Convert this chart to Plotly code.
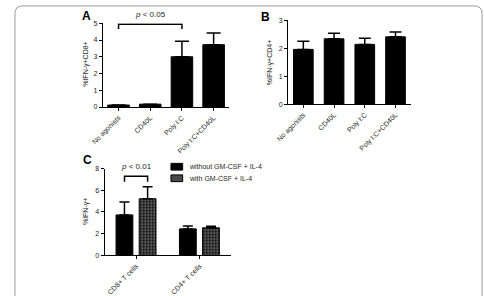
import plotly.graph_objects as go

W, H = 484, 296

# ---- data ----
cats_ab = ["No agonists", "CD40L", "Poly I:C", "Poly I:C+CD40L"]
a_vals = [0.12, 0.17, 3.0, 3.72]
a_err_top = [0.12, 0.17, 3.92, 4.42]
b_vals = [1.96, 2.34, 2.14, 2.41]
b_err_top = [2.25, 2.54, 2.36, 2.58]

cats_c = ["CD8+ T cells", "CD4+ T cells"]
c_without = [3.73, 2.44]
c_without_top = [4.92, 2.70]
c_with = [5.22, 2.54]
c_with_top = [6.33, 2.68]
legend_names = ["without GM-CSF + IL-4", "with GM-CSF + IL-4"]

FONT = "Liberation Sans, Arial, sans-serif"
TXT = "#262626"

def px_x(p):
    return p / W

def px_y(p):
    return 1 - p / H

fig = go.Figure()

def up_err(vals, tops, cap):
    return dict(type="data", symmetric=False,
                array=[t - v for v, t in zip(vals, tops)],
                arrayminus=[0] * len(vals),
                color="black", thickness=1.5, width=cap)

PATTERN = dict(shape=".", fgcolor="white", bgcolor="black", size=3, solidity=0.45)

fig.add_trace(go.Bar(x=cats_ab, y=a_vals, width=0.68, xaxis="x", yaxis="y",
                     marker=dict(color="black", line=dict(color="black", width=1)),
                     error_y=up_err(a_vals, a_err_top, 7), showlegend=False))
fig.add_trace(go.Bar(x=cats_ab, y=b_vals, width=0.64, xaxis="x2", yaxis="y2",
                     marker=dict(color="black", line=dict(color="black", width=1)),
                     error_y=up_err(b_vals, b_err_top, 6), showlegend=False))
fig.add_trace(go.Bar(x=cats_c, y=c_without, width=0.265, offset=-0.32,
                     xaxis="x3", yaxis="y3", name=legend_names[0], showlegend=False,
                     marker=dict(color="black", line=dict(color="black", width=1)),
                     error_y=up_err(c_without, c_without_top, 5)))
fig.add_trace(go.Bar(x=cats_c, y=c_with, width=0.265, offset=0.045,
                     xaxis="x3", yaxis="y3", name=legend_names[1], showlegend=False,
                     marker=dict(color="black", line=dict(color="black", width=1),
                                 pattern=PATTERN),
                     error_y=up_err(c_with, c_with_top, 5)))

tickfont = dict(family=FONT, size=7, color=TXT)
common_x = dict(showline=True, linecolor="black", linewidth=1, ticks="outside",
                ticklen=3, tickcolor="black", tickwidth=1, showgrid=False,
                zeroline=False, tickangle=-45, tickfont=tickfont, fixedrange=True)
common_y = dict(showline=True, linecolor="black", linewidth=1, ticks="outside",
                ticklen=3, tickcolor="black", tickwidth=1, showgrid=False,
                zeroline=False, tickfont=tickfont, fixedrange=True)

fig.update_layout(
    width=W, height=H, margin=dict(l=0, r=0, t=0, b=0),
    paper_bgcolor="white", plot_bgcolor="white", barmode="overlay",
    font=dict(family=FONT, size=7, color=TXT), showlegend=False,
    xaxis=dict(common_x, domain=[px_x(93), px_x(223)], range=[-0.5, 3.5], anchor="y"),
    yaxis=dict(common_y, domain=[px_y(107), px_y(20)], range=[0, 5], dtick=1, anchor="x"),
    xaxis2=dict(common_x, domain=[px_x(283), px_x(409)], range=[-0.5, 3.5], anchor="y2"),
    yaxis2=dict(common_y, domain=[px_y(104), px_y(17)], range=[0, 3], dtick=1, anchor="x2"),
    xaxis3=dict(common_x, domain=[px_x(95), px_x(225)], range=[-0.5, 1.5], anchor="y3"),
    yaxis3=dict(common_y, domain=[px_y(261), px_y(171)], range=[0, 8], dtick=2, anchor="x3"),
)

# y-axis titles
for txt, yc, xc in [("%IFN-γ+CD8+", 62, 76), ("%IFN-γ+CD4+", 60, 264), ("%IFN-γ+", 216, 76)]:
    fig.add_annotation(text=txt, xref="paper", yref="paper", x=px_x(xc), y=px_y(yc),
                       textangle=-90, showarrow=False, font=dict(family=FONT, size=7, color=TXT),
                       xanchor="center", yanchor="middle")

# panel letters
for t, xc, yc in [("A", 76, 12), ("B", 260, 13), ("C", 77, 162)]:
    fig.add_annotation(text="<b>%s</b>" % t, xref="paper", yref="paper", x=px_x(xc), y=px_y(yc),
                       showarrow=False, font=dict(family=FONT, size=12, color="black"),
                       xanchor="center", yanchor="middle")

# legend (drawn manually for compact Prism-style swatches)
for i, (name, fill) in enumerate(zip(legend_names, ["black", "#4a4a4a"])):
    yc = 169 + 12 * i
    fig.add_shape(type="rect", xref="paper", yref="paper",
                  x0=px_x(163), x1=px_x(175), y0=px_y(yc + 3.5), y1=px_y(yc - 3.5),
                  fillcolor=fill, line=dict(color="black", width=1))
    fig.add_annotation(text=name, xref="paper", yref="paper", x=px_x(179), y=px_y(yc),
                       showarrow=False, xanchor="left", yanchor="middle",
                       font=dict(family=FONT, size=7, color=TXT))

# significance brackets
def bracket(xa, ya, i0, i1, ytop, ybot, label):
    fig.add_shape(type="path", xref=xa, yref=ya,
                  path="M %s,%s L %s,%s L %s,%s L %s,%s" % (i0, ybot, i0, ytop, i1, ytop, i1, ybot),
                  line=dict(color="black", width=1.5))
    fig.add_annotation(text=label, xref=xa, yref=ya, x=(i0 + i1) / 2, y=ytop,
                       yshift=3, showarrow=False, yanchor="bottom",
                       font=dict(family=FONT, size=8, color=TXT))

bracket("x", "y", 0, 2, 4.94, 4.66, "<i>p</i> &lt; 0.05")
bracket("x3", "y3", -0.187, 0.178, 7.3, 6.8, "<i>p</i> &lt; 0.01")

# rounded frame
r = 8
x0, x1, y0, y1 = 3, 482, 2, 320
def P(x, y):
    return "%f,%f" % (px_x(x), px_y(y))
frame = ("M " + P(x0, y1) + " L " + P(x0, y0 + r) + " Q " + P(x0, y0) + " " + P(x0 + r, y0)
         + " L " + P(x1 - r, y0) + " Q " + P(x1, y0) + " " + P(x1, y0 + r) + " L " + P(x1, y1))
fig.add_shape(type="path", xref="paper", yref="paper", path=frame,
              line=dict(color="#9a9a9a", width=1))

fig.write_html("out.html")
